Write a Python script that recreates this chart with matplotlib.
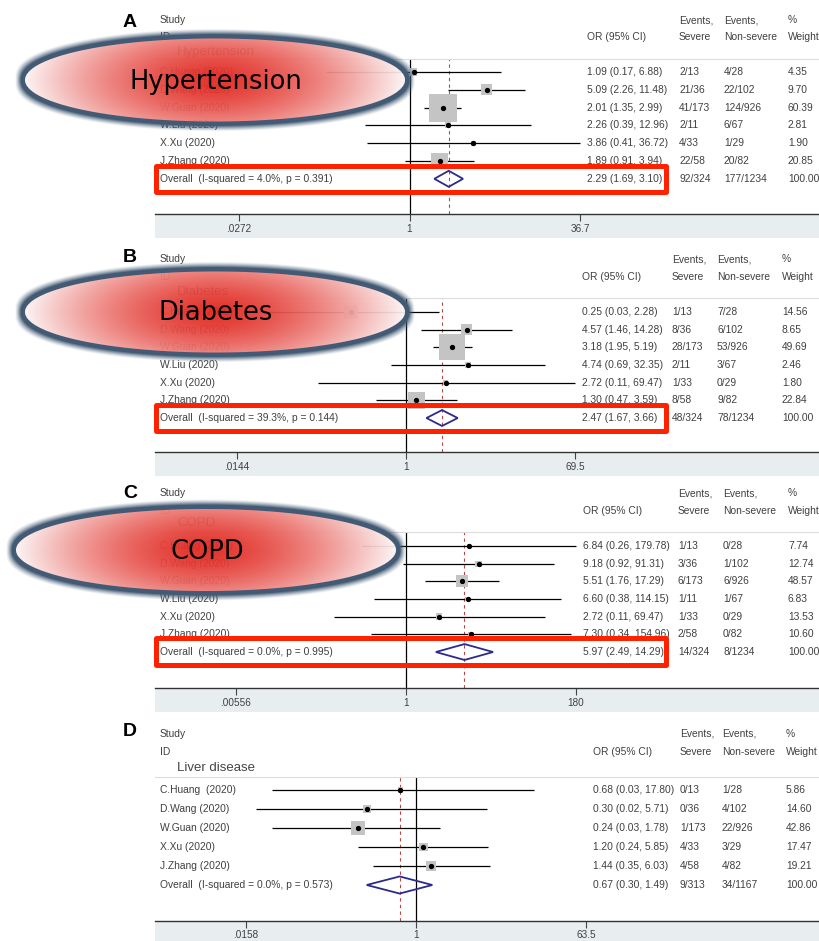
import numpy as np
import matplotlib.pyplot as plt
from matplotlib.patches import Polygon, Rectangle
from matplotlib.transforms import blended_transform_factory

W, H = 819, 941

studies_abc = ["C.Huang (2020)", "D.Wang (2020)", "W.Guan (2020)",
               "W.Liu (2020)", "X.Xu (2020)", "J.Zhang (2020)"]
studies_d = ["C.Huang  (2020)", "D.Wang (2020)", "W.Guan (2020)",
             "X.Xu (2020)", "J.Zhang (2020)"]

# A - hypertension
a_or = [1.09, 5.09, 2.01, 2.26, 3.86, 1.89]
a_lo = [0.17, 2.26, 1.35, 0.39, 0.41, 0.91]
a_hi = [6.88, 11.48, 2.99, 12.96, 36.72, 3.94]
a_w = [4.35, 9.70, 60.39, 2.81, 1.90, 20.85]
a_sev = ["2/13", "21/36", "41/173", "2/11", "4/33", "22/58"]
a_non = ["4/28", "22/102", "124/926", "6/67", "1/29", "20/82"]
a_tot = [2.29, 1.69, 3.10, "92/324", "177/1234", 4.0, 0.391]

# B - diabetes
b_or = [0.25, 4.57, 3.18, 4.74, 2.72, 1.30]
b_lo = [0.03, 1.46, 1.95, 0.69, 0.11, 0.47]
b_hi = [2.28, 14.28, 5.19, 32.35, 69.47, 3.59]
b_w = [14.56, 8.65, 49.69, 2.46, 1.80, 22.84]
b_sev = ["1/13", "8/36", "28/173", "2/11", "1/33", "8/58"]
b_non = ["7/28", "6/102", "53/926", "3/67", "0/29", "9/82"]
b_tot = [2.47, 1.67, 3.66, "48/324", "78/1234", 39.3, 0.144]

# C - COPD
c_or = [6.84, 9.18, 5.51, 6.60, 2.72, 7.30]
c_lo = [0.26, 0.92, 1.76, 0.38, 0.11, 0.34]
c_hi = [179.78, 91.31, 17.29, 114.15, 69.47, 154.96]
c_w = [7.74, 12.74, 48.57, 6.83, 13.53, 10.60]
c_sev = ["1/13", "3/36", "6/173", "1/11", "1/33", "2/58"]
c_non = ["0/28", "1/102", "6/926", "1/67", "0/29", "0/82"]
c_tot = [5.97, 2.49, 14.29, "14/324", "8/1234", 0.0, 0.995]

# D - liver disease
d_or = [0.68, 0.30, 0.24, 1.20, 1.44]
d_lo = [0.03, 0.02, 0.03, 0.24, 0.35]
d_hi = [17.80, 5.71, 1.78, 5.85, 6.03]
d_w = [5.86, 14.60, 42.86, 17.47, 19.21]
d_sev = ["0/13", "0/36", "1/173", "4/33", "4/58"]
d_non = ["1/28", "4/102", "22/926", "3/29", "4/82"]
d_tot = [0.67, 0.30, 1.49, "9/313", "34/1167", 0.0, 0.573]

subgroups = ["Hypertension", "Diabetes", "COPD", "Liver disease"]
tick_vals = [[0.0272, 1, 36.7], [0.0144, 1, 69.5], [0.00556, 1, 180], [0.0158, 1, 63.5]]
tick_labs = [[".0272", "1", "36.7"], [".0144", "1", "69.5"], [".00556", "1", "180"], [".0158", "1", "63.5"]]

# layout in pixels
layouts = [
    dict(ly=22, h1=20, h2=37, sy=52, sep=59, r0=72, sp=17.8, ax=214, tpx=(239, 580),
         cols=(160, 587, 679, 724, 788), k=3.6),
    dict(ly=258, h1=259, h2=277, sy=292, sep=298, r0=312, sp=17.67, ax=452, tpx=(237, 575),
         cols=(160, 582, 672, 717, 782), k=3.7),
    dict(ly=493, h1=493, h2=511, sy=523, sep=532, r0=546, sp=17.67, ax=688, tpx=(236, 576),
         cols=(160, 583, 678, 723, 788), k=1.75),
    dict(ly=732, h1=734, h2=752, sy=768, sep=777, r0=790, sp=19.0, ax=921, tpx=(246, 586),
         cols=(160, 593, 680, 722, 786), k=2.15),
]

panels = [
    (studies_abc, a_or, a_lo, a_hi, a_w, a_sev, a_non, a_tot),
    (studies_abc, b_or, b_lo, b_hi, b_w, b_sev, b_non, b_tot),
    (studies_abc, c_or, c_lo, c_hi, c_w, c_sev, c_non, c_tot),
    (studies_d, d_or, d_lo, d_hi, d_w, d_sev, d_non, d_tot),
]
letters = ["A", "B", "C", "D"]

TXT = "#404040"
FONT = "Liberation Sans"
FS = 7.4

fig = plt.figure(figsize=(W / 100, H / 100), dpi=100)

# overlay axes in pixel coords for headers and annotations
ov = fig.add_axes([0, 0, 1, 1])
ov.set_xlim(0, W)
ov.set_ylim(H, 0)
ov.axis("off")
ov.patch.set_alpha(0)
ov.set_zorder(10)

x0, x1 = 155, 819
for i, (names, ors, los, his, ws, sev, non, tot) in enumerate(panels):
    L = layouts[i]
    # log-x mapping so the symmetric ticks land where they are in the original
    lnmax = np.log(tick_vals[i][2])
    ppl = (L["tpx"][1] - L["tpx"][0]) / (2 * lnmax)
    cen = (L["tpx"][0] + L["tpx"][1]) / 2
    xlim = (np.exp((x0 - cen) / ppl), np.exp((x1 - cen) / ppl))

    ax = fig.add_axes([x0 / W, 1 - L["ax"] / H, (x1 - x0) / W, (L["ax"] - L["sep"]) / H])
    ax.set_xscale("log")
    ax.set_xlim(*xlim)
    ax.set_ylim((L["ax"] - L["r0"]) / L["sp"], (L["sep"] - L["r0"]) / L["sp"])
    ax.set_facecolor("white")
    for s in ["left", "right"]:
        ax.spines[s].set_visible(False)
    ax.spines["top"].set_color("#dcdcdc")
    ax.spines["top"].set_linewidth(0.8)
    ax.spines["bottom"].set_color("#333333")
    ax.spines["bottom"].set_linewidth(1.0)
    ax.set_yticks([])
    ax.set_xticks(tick_vals[i])
    ax.set_xticklabels(tick_labs[i], fontsize=7.2, color=TXT, family=FONT)
    ax.xaxis.set_minor_locator(plt.NullLocator())
    ax.tick_params(axis="x", length=5, width=0.8, color="#444444", pad=2.5 if i < 3 else 1.5)

    # gray band under the axis
    hh = L["ax"] - L["sep"]
    ax.add_patch(Rectangle((0, -24 / hh), 1, 24 / hh, transform=ax.transAxes,
                           facecolor="#e8eef0", edgecolor="none", clip_on=False, zorder=-1))

    n = len(ors)
    ys = np.arange(n)
    ax.axvline(1, color="black", lw=0.9, zorder=1)
    ax.axvline(tot[0], color="#b24a4a", lw=0.8, ls=(0, (3, 3)), zorder=1)
    ax.hlines(ys, los, his, color="black", lw=0.9, zorder=2)
    side = L["k"] * np.sqrt(np.array(ws)) * 0.72
    ax.scatter(ors, ys, marker="s", s=side ** 2, color="#c4c4c4", edgecolors="none", zorder=3)
    ax.plot(ors, ys, "o", color="black", ms=2.8, zorder=4)

    # overall diamond
    yo = n
    dh = 0.45
    ax.add_patch(Polygon([(tot[1], yo), (tot[0], yo - dh), (tot[2], yo), (tot[0], yo + dh)],
                         closed=True, fill=False, edgecolor="#2b2b8c", lw=1.3, zorder=4))

    # table text
    tr = blended_transform_factory(ov.transData, ax.transData)
    c = L["cols"]
    kw = dict(transform=tr, fontsize=FS, color=TXT, family=FONT, va="center")
    for j in range(n):
        ov.text(c[0], j, names[j], **kw)
        ov.text(c[1], j, f"{ors[j]:.2f} ({los[j]:.2f}, {his[j]:.2f})", **kw)
        ov.text(c[2], j, sev[j], **kw)
        ov.text(c[3], j, non[j], **kw)
        ov.text(c[4], j, f"{ws[j]:.2f}", **kw)
    ov.text(c[0], yo, f"Overall  (I-squared = {tot[5]:.1f}%, p = {tot[6]:.3f})", **kw)
    ov.text(c[1], yo, f"{tot[0]:.2f} ({tot[1]:.2f}, {tot[2]:.2f})", **kw)
    ov.text(c[2], yo, tot[3], **kw)
    ov.text(c[3], yo, tot[4], **kw)
    ov.text(c[4], yo, "100.00", **kw)

    # headers
    hk = dict(fontsize=FS, color=TXT, family=FONT, va="center", zorder=1)
    ov.text(130, L["ly"], letters[i], fontsize=14, fontweight="bold", family=FONT,
            ha="center", va="center", zorder=1)
    ov.text(c[0], L["h1"], "Study", **hk)
    ov.text(c[0], L["h2"], "ID", **hk)
    ov.text(c[0] + 17, L["sy"], subgroups[i], fontsize=9.5, color="#444444", family=FONT,
            va="center", zorder=1)
    ov.text(c[1], L["h2"], "OR (95% CI)", **hk)
    ov.text(c[2], L["h1"], "Events,", **hk)
    ov.text(c[2], L["h2"], "Severe", **hk)
    ov.text(c[3], L["h1"], "Events,", **hk)
    ov.text(c[3], L["h2"], "Non-severe", **hk)
    ov.text(c[4], L["h1"], "%", **hk)
    ov.text(c[4], L["h2"], "Weight", **hk)

# highlight ellipses (radial red gradient with a dark soft rim)
ellipses = [(215, 80, 190, 41.5, "Hypertension", 216, 82),
            (215, 312, 190, 40.5, "Diabetes", 216, 313),
            (206, 550, 190, 41, "COPD", 207, 552)]
img = np.zeros((H, W, 4))
yy, xx = np.mgrid[0:H, 0:W] + 0.5
red = np.array([226, 40, 32]) / 255
pale = np.array([252, 244, 244]) / 255
dark = np.array([66, 90, 116]) / 255
for cx, cy, a, b, _, _, _ in ellipses:
    dx = xx - cx
    dy = yy - cy
    f = np.sqrt((dx / a) ** 2 + (dy / b) ** 2)
    g = np.sqrt((dx / a ** 2) ** 2 + (dy / b ** 2) ** 2) / np.maximum(f, 1e-9)
    d = (f - 1) / np.maximum(g, 1e-9)
    cover = np.clip(0.5 - d, 0, 1)
    r = np.sqrt((dx / a) ** 2 + (dy / b * 0.55) ** 2)
    t = np.clip(r, 0, 1) ** 1.5
    fill = red[None, None, :] * (1 - t)[..., None] + pale[None, None, :] * t[..., None]
    glow = np.clip((10 - d) / 6, 0, 1) ** 1.3 * (d > -1)
    rgb = fill * cover[..., None] + dark[None, None, :] * (1 - cover)[..., None]
    alpha = 0.94 * cover + glow * (1 - cover)
    m = alpha > img[..., 3]
    img[m, :3] = rgb[m]
    img[m, 3] = alpha[m]
ov.imshow(img, extent=(0, W, H, 0), aspect="auto", interpolation="bilinear", zorder=5)
ov.set_xlim(0, W)
ov.set_ylim(H, 0)
for cx, cy, a, b, label, tx, ty in ellipses:
    ov.text(tx, ty, label, fontsize=18.5, family="DejaVu Sans", color="black",
            ha="center", va="center", zorder=7)

# red boxes around the overall rows
for (ya, yb) in [(165.5, 191.5), (404.5, 430.5), (637.5, 664.5)]:
    ov.add_patch(Rectangle((155.5, ya), 510, yb - ya, fill=False, edgecolor="#ff2200",
                           lw=3.6, joinstyle="round", zorder=6))

fig.savefig("out.png", dpi=100)
